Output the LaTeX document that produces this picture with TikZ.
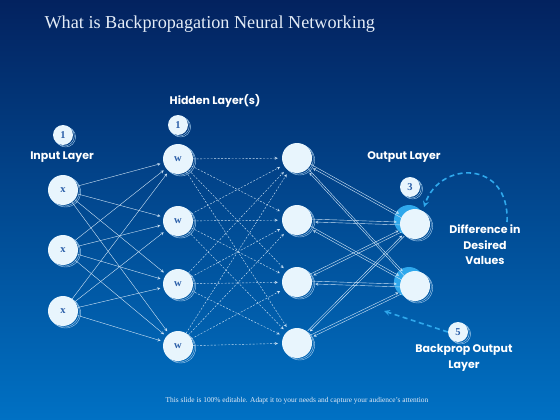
\documentclass[tikz,border=0pt]{standalone}
\usepackage{fontspec}
\setmainfont{Liberation Serif}
\setsansfont{Poppins}
\usetikzlibrary{shadows}
\definecolor{bgtop}{HTML}{03225F}
\definecolor{bgbot}{HTML}{0071C4}
\definecolor{nodefill}{HTML}{E8F5FD}
\definecolor{nodetext}{HTML}{2A5EA8}
\definecolor{ringcol}{HTML}{A9D0F0}
\definecolor{linkcol}{HTML}{CFE4F6}
\definecolor{accent}{HTML}{2FA8EC}
\definecolor{titlecol}{HTML}{E4ECF7}
\tikzset{
    neuron/.style={circle, fill=nodefill, minimum size=30pt, inner sep=0pt,
        font=\bfseries\fontsize{10.5}{10}\selectfont, text=nodetext,
        copy shadow={shadow xshift=2.6pt, shadow yshift=-2pt, draw=ringcol, fill=none, line width=0.4pt},
        copy shadow={shadow xshift=1.3pt, shadow yshift=-1pt, draw=ringcol, fill=none, line width=0.4pt}},
    outneuron/.style={neuron,
        general shadow={shadow xshift=-6pt, shadow yshift=4pt, fill=accent, draw=none}},
    badge/.style={neuron, minimum size=20pt},
    layertext/.style={font=\sffamily\bfseries\fontsize{11}{15.5}\selectfont, text=white, align=center},
    link/.style={->, draw=linkcol, line width=0.4pt, shorten >=3pt},
    dlink/.style={link, dash pattern=on 2pt off 1.5pt, shorten >=4pt},
    bigarrow/.style={->, draw=accent, line width=1.6pt, dash pattern=on 5pt off 3.5pt}
}
\begin{document}
\begin{tikzpicture}[x=1pt, y=-1pt, >=stealth]
        % \draw (0,0) grid (560,420);
        \shade [top color=bgtop, bottom color=bgbot] (0,0) rectangle (560,420);
        \useasboundingbox (0,0) rectangle (560,420);
        \node [anchor=west, text=titlecol, font=\fontsize{18.2}{20}\selectfont, name=title] at (41,24) {What is Backpropagation Neural Networking};
        \node [text=titlecol, font=\fontsize{7.4}{8}\selectfont, name=footer] at (297,401) {This slide is 100\% editable. Adapt it to your needs and capture your audience's attention};
        \node [badge, name=b1] at (63,135) {1};
        \node [badge, name=b2] at (178,125) {1};
        \node [badge, name=b3] at (410,187) {3};
        \node [badge, name=b5] at (458,332) {5};
        \node [layertext, name=inlab] at (62,157) {Input Layer};
        \node [layertext, name=hidlab] at (215,101) {Hidden Layer(s)};
        \node [layertext, name=outlab] at (404,157) {Output Layer};
        \node [layertext, name=difflab] at (485,245) {Difference in\\Desired\\Values};
        \node [layertext, name=backlab] at (464,358) {Backprop Output\\Layer};
        \node [neuron, name=in1] at (63,190) {x};
        \node [neuron, name=in2] at (63,250) {x};
        \node [neuron, name=in3] at (63,311) {x};
        \node [neuron, name=h1] at (178,159) {w};
        \node [neuron, name=h2] at (178,221) {w};
        \node [neuron, name=h3] at (178,284) {w};
        \node [neuron, name=h4] at (178,346) {w};
        \node [neuron, name=g1] at (297,158) {};
        \node [neuron, name=g2] at (297,220) {};
        \node [neuron, name=g3] at (297,282) {};
        \node [neuron, name=g4] at (297,343) {};
        \node [outneuron, name=o1] at (415,224) {};
        \node [outneuron, name=o2] at (415,286) {};
        \foreach \i in {1,2,3}
            \foreach \j in {1,...,4}
                \draw [link] (in\i) -- (h\j);
        \foreach \i in {1,...,4}
            \foreach \j in {1,...,4}
                \draw [dlink] (h\i) -- (g\j);
        \foreach \i in {1,...,4}
            \foreach \j in {1,2} {
                \draw [link, transform canvas={yshift=1.4pt}] (g\i) -- (o\j);
                \draw [link, transform canvas={yshift=-1.4pt}] (o\j) -- (g\i);
            }
        \coordinate (arcstart) at (507,222);
        \coordinate (arcend) at (424,207);
        \coordinate (backend) at (384,311);
        \draw [bigarrow] (arcstart) .. controls (510,160) and (440,160) .. (arcend);
        \draw [bigarrow] (b5.west) -- (backend);
    \end{tikzpicture}
\end{document}
